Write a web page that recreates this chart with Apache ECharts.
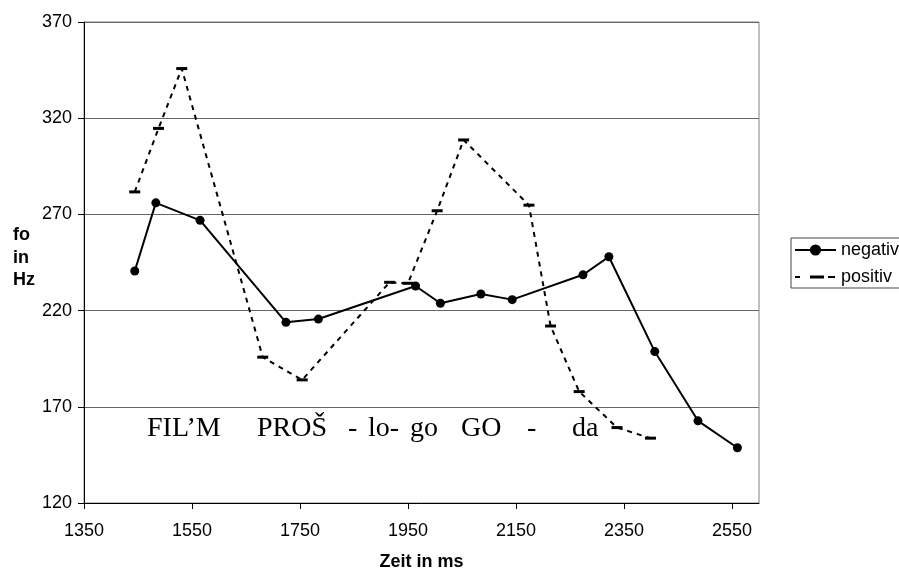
<!DOCTYPE html>
<html>
<head>
<meta charset="utf-8">
<script src="https://cdn.jsdelivr.net/npm/echarts@6/dist/echarts.min.js"></script>
<style>
html,body{margin:0;padding:0;background:#fff;}
#chart{width:899px;height:571px;}
</style>
</head>
<body>
<div id="chart"></div>
<script>
// Data
const negX = [1444, 1483, 1565, 1724, 1784, 1964, 2010, 2085, 2143, 2274, 2322, 2407, 2487, 2560];
const negY = [240.6, 276, 266.9, 213.9, 215.6, 232.8, 223.8, 228.6, 225.7, 238.6, 248, 198.7, 162.7, 148.7];
const posX = [1444, 1488, 1531, 1681, 1754, 1916, 1950, 2004, 2053, 2174, 2214, 2267, 2337, 2399];
const posY = [281.7, 314.7, 345.8, 195.8, 184, 234.7, 234.2, 271.9, 308.7, 274.8, 212, 177.9, 159.2, 153.7];
const xTicks = [1350, 1550, 1750, 1950, 2150, 2350, 2550];
const yTicks = [120, 170, 220, 270, 320, 370];
const seriesNames = ['negativ', 'positiv'];
const syllables = ['FIL\u2019M', 'PRO\u0160', '-', 'lo-', 'go', 'GO', '-', 'da'];
const syllableLeft = [147, 257, 348, 368, 410, 461, 527, 572];

const chart = echarts.init(document.getElementById('chart'), null, {renderer: 'canvas'});
const sansFont = 'Liberation Sans, Arial, sans-serif';
const serifFont = 'Liberation Serif, Times New Roman, serif';

const graphics = syllables.map((s, i) => ({
  type: 'text',
  left: syllableLeft[i],
  top: 415,
  style: {text: s, font: '28px ' + serifFont, fill: '#000'}
}));
graphics.push({
  type: 'text', left: 13, top: 224,
  style: {text: 'fo\nin\nHz', font: 'bold 18px ' + sansFont, fill: '#000', lineHeight: 22.5}
});

// legend icon for the dashed series: dash, bar marker, dash (in a 41x14 box)
const posIcon = 'path://M0,0h0.01v0.01h-0.01z M40.99,13.99h0.01v0.01h-0.01z ' +
  'M0,6h5v2h-5z M15,5.5h14v3h-14z M33,6h7v2h-7z';

chart.setOption({
  animation: false,
  backgroundColor: '#fff',
  grid: {left: 84, right: 140, top: 22, bottom: 68, show: true, borderColor: '#808080', borderWidth: 1,
         outerBoundsMode: 'none', containLabel: false},
  xAxis: {
    type: 'value', min: 1350, max: 2600, interval: 200,
    name: 'Zeit in ms', nameLocation: 'middle', nameGap: 50,
    nameTextStyle: {fontFamily: sansFont, fontWeight: 'bold', fontSize: 18, color: '#000'},
    axisLine: {lineStyle: {color: '#000', width: 1}},
    axisTick: {show: true, length: 6, lineStyle: {color: '#000'}, customValues: xTicks},
    axisLabel: {fontFamily: sansFont, fontSize: 18, color: '#000', margin: 19, customValues: xTicks,
                formatter: v => String(v)},
    splitLine: {show: false}
  },
  yAxis: {
    type: 'value', min: 120, max: 370, interval: 50,
    axisLine: {show: true, lineStyle: {color: '#000', width: 1}},
    axisTick: {show: true, length: 6, lineStyle: {color: '#000'}, customValues: yTicks},
    axisLabel: {fontFamily: sansFont, fontSize: 18, color: '#000', margin: 12, customValues: yTicks,
                formatter: v => String(v)},
    splitLine: {show: true, lineStyle: {color: '#666', width: 1.2}}
  },
  legend: {
    orient: 'vertical', left: 791, top: 238,
    padding: [3, 40, 2, 3],
    itemWidth: 41, itemHeight: 14, itemGap: 9,
    borderColor: '#444', borderWidth: 1, backgroundColor: '#fff',
    textStyle: {fontFamily: sansFont, fontSize: 18, color: '#000', lineHeight: 18},
    data: [{name: seriesNames[0]}, {name: seriesNames[1], icon: posIcon}]
  },
  series: [
    {
      name: seriesNames[0], type: 'line',
      data: negX.map((x, i) => [x, negY[i]]),
      symbol: 'circle', symbolSize: 9,
      lineStyle: {color: '#000', width: 2},
      itemStyle: {color: '#000'}
    },
    {
      name: seriesNames[1], type: 'line',
      data: posX.map((x, i) => [x, posY[i]]),
      symbol: 'rect', symbolSize: [11, 3],
      lineStyle: {color: '#000', width: 2, type: [5, 5]},
      itemStyle: {color: '#000'}
    }
  ],
  graphic: graphics
});
</script>
</body>
</html>
